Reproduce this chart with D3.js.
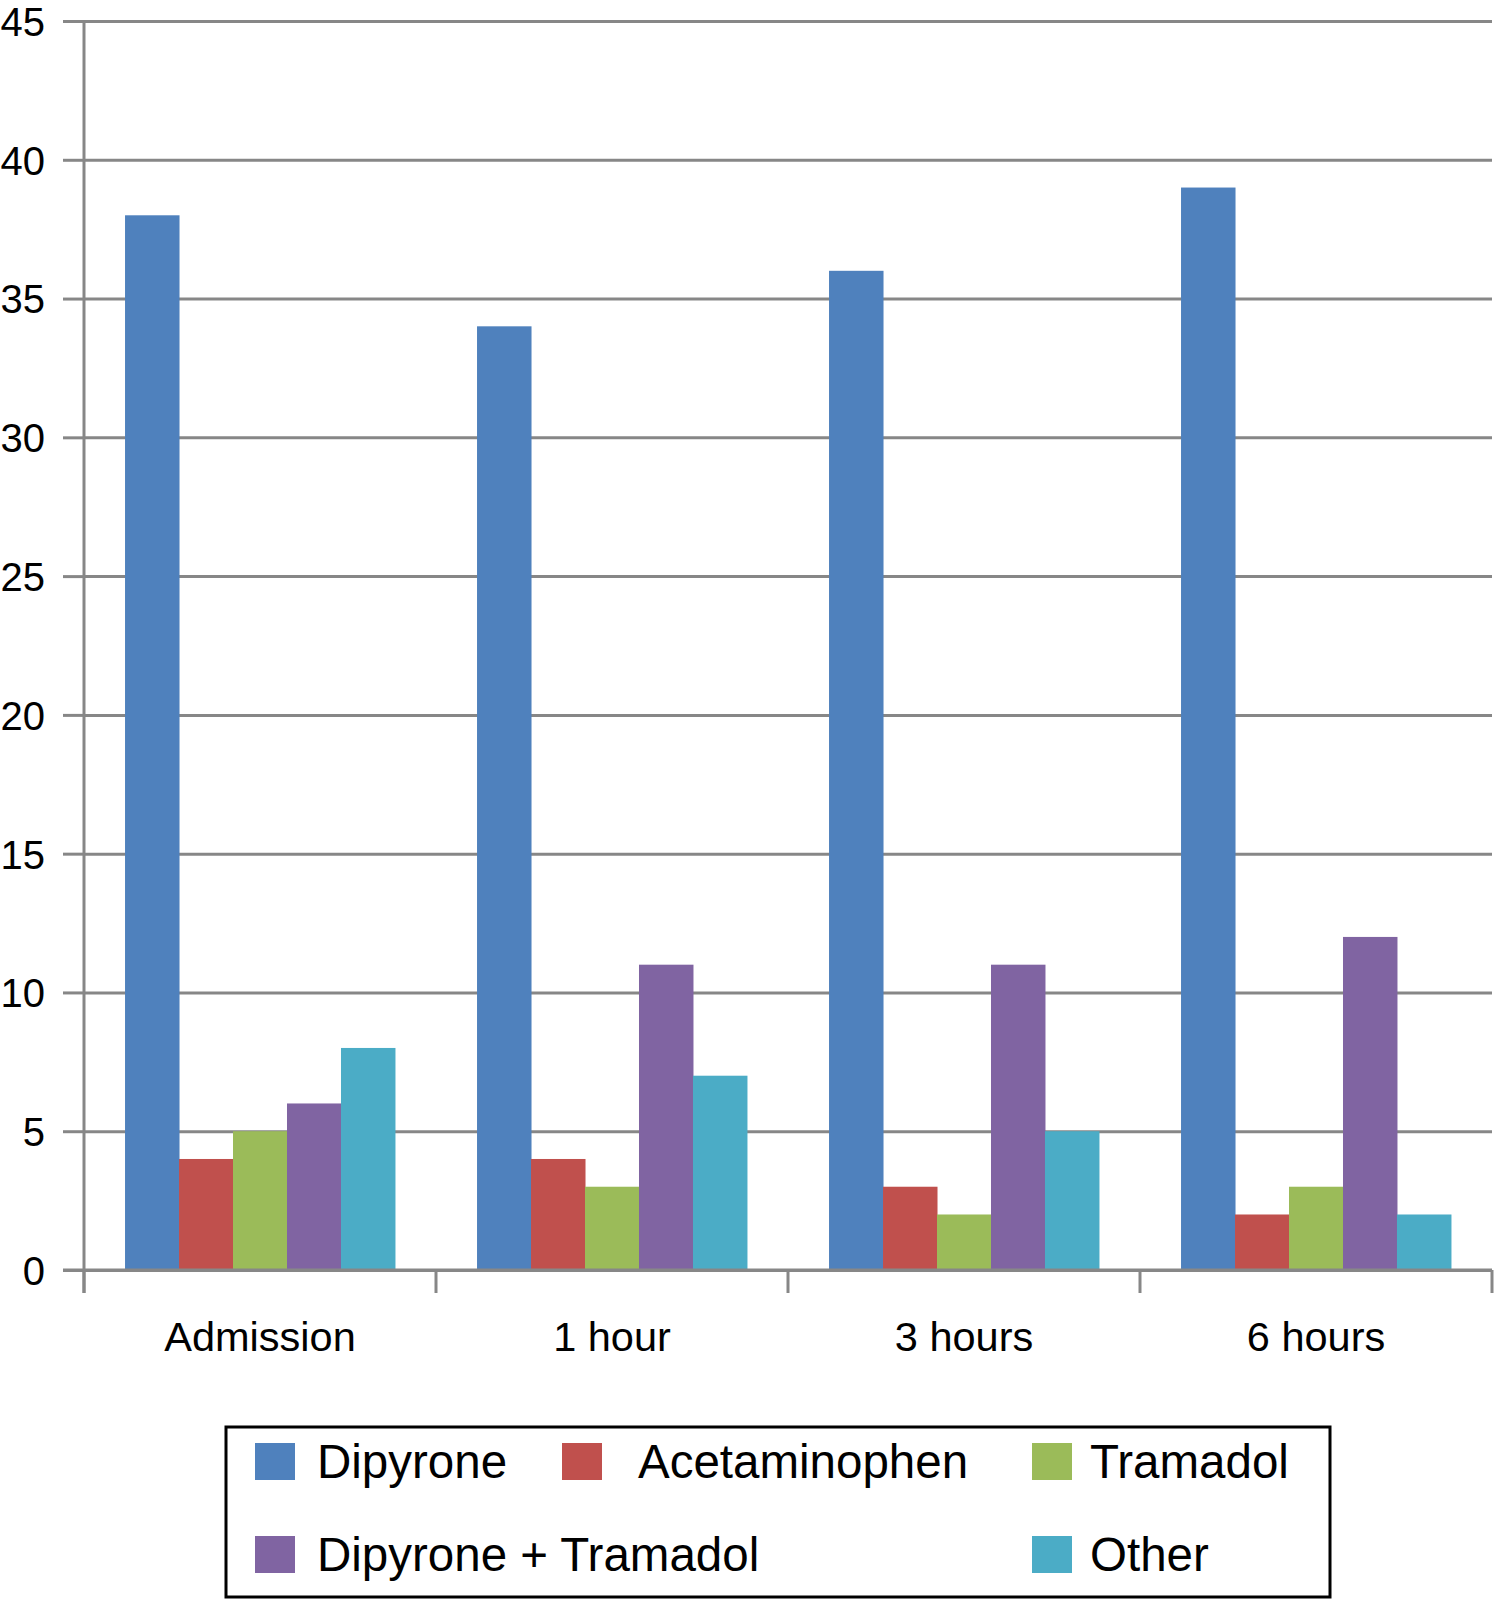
<!DOCTYPE html>
<html>
<head>
<meta charset="utf-8">
<script src="https://cdn.jsdelivr.net/npm/d3@7"></script>
<style>
body { margin: 0; background: #fff; }
text { font-family: "Liberation Sans", Arial, sans-serif; fill: #000; }
</style>
</head>
<body>
<svg id="chart"></svg>
<script>
"use strict";

var svg_width = 1494;
var svg_height = 1600;

// data
var categories = ["Admission", "1 hour", "3 hours", "6 hours"];
var seriesNames = ["Dipyrone", "Acetaminophen", "Tramadol", "Dipyrone + Tramadol", "Other"];
var seriesColors = ["#4f81bd", "#c0504d", "#9bbb59", "#8064a2", "#4bacc6"];
var dipyrone = [38, 34, 36, 39];
var acetaminophen = [4, 4, 3, 2];
var tramadol = [5, 3, 2, 3];
var dipyroneTramadol = [6, 11, 11, 12];
var other = [8, 7, 5, 2];
var yTicks = [0, 5, 10, 15, 20, 25, 30, 35, 40, 45];

var seriesValues = [dipyrone, acetaminophen, tramadol, dipyroneTramadol, other];

var plotLeft = 84, plotRight = 1492;
var plotTop = 21, plotBottom = 1270;
var gridColor = "#878787";

var svg = d3.select("#chart")
    .attr("width", svg_width)
    .attr("height", svg_height);

var x0 = d3.scaleBand()
    .domain(categories)
    .range([plotLeft, plotRight])
    .padding(0);
var x1 = d3.scaleBand()
    .domain(seriesNames)
    .range([0, x0.bandwidth()])
    .paddingInner(0)
    .paddingOuter(0.76);
var yScale = d3.scaleLinear()
    .domain([0, 45])
    .range([plotBottom, plotTop]);

// horizontal gridlines (they stick out left of the axis like ticks)
var yAxis = svg.append("g")
    .attr("class", "axis axis--y")
    .attr("transform", "translate(" + plotLeft + ",0)")
    .call(d3.axisLeft(yScale)
        .tickValues(yTicks)
        .tickSize(21)
        .tickPadding(40)
        .tickFormat(d3.format("d")));
yAxis.select(".domain").remove();
yAxis.selectAll(".tick line").clone()
    .attr("x2", plotRight - plotLeft);
yAxis.selectAll(".tick line")
    .attr("stroke", gridColor)
    .attr("stroke-width", 3);
yAxis.selectAll(".tick text")
    .attr("x", -39)
    .attr("dy", "0.36em")
    .style("font-size", "40px")
    .style("font-family", "'Liberation Sans', Arial, sans-serif")
    .attr("fill", "#000");

// vertical axis line
svg.append("line")
    .attr("x1", plotLeft).attr("x2", plotLeft)
    .attr("y1", plotTop).attr("y2", plotBottom + 23)
    .attr("stroke", gridColor)
    .attr("stroke-width", 3);

// bars
var groups = svg.append("g").selectAll(".group")
    .data(categories)
    .enter().append("g")
    .attr("class", "group")
    .attr("transform", function(d) { return "translate(" + x0(d) + ",0)"; });

groups.selectAll("rect")
    .data(function(d, i) {
        return seriesNames.map(function(s, j) {
            return {name: s, value: seriesValues[j][i], color: seriesColors[j]};
        });
    })
    .enter().append("rect")
    .attr("x", function(d) { return x1(d.name); })
    .attr("width", x1.bandwidth() + 0.5)
    .attr("y", function(d) { return yScale(d.value); })
    .attr("height", function(d) { return yScale(0) - yScale(d.value); })
    .attr("fill", function(d) { return d.color; });

// x axis (drawn over bar bottoms)
var xAxis = svg.append("g")
    .attr("class", "axis axis--x")
    .attr("transform", "translate(0," + plotBottom + ")");
xAxis.append("line")
    .attr("x1", plotLeft - 21).attr("x2", plotRight)
    .attr("stroke", gridColor)
    .attr("stroke-width", 3);
var tickPositions = categories.map(function(c) { return x0(c); }).concat([plotRight]);
xAxis.selectAll(".xtick")
    .data(tickPositions)
    .enter().append("line")
    .attr("class", "xtick")
    .attr("x1", function(d) { return d; })
    .attr("x2", function(d) { return d; })
    .attr("y1", 0).attr("y2", 23)
    .attr("stroke", gridColor)
    .attr("stroke-width", 3);
xAxis.selectAll(".xlabel")
    .data(categories)
    .enter().append("text")
    .attr("class", "xlabel")
    .attr("text-anchor", "middle")
    .attr("x", function(d) { return x0(d) + x0.bandwidth() / 2; })
    .attr("y", 81)
    .style("font-size", "41.5px")
    .text(function(d) { return d; });

// legend
var legend = svg.append("g").attr("class", "legend");
legend.append("rect")
    .attr("x", 226).attr("y", 1427)
    .attr("width", 1104).attr("height", 170)
    .attr("fill", "none")
    .attr("stroke", "#000")
    .attr("stroke-width", 3);

var legendPos = [
    {sx: 255, tx: 317, y: 1443},
    {sx: 562, tx: 638, y: 1443},
    {sx: 1032, tx: 1090, y: 1443},
    {sx: 255, tx: 317, y: 1536},
    {sx: 1032, tx: 1090, y: 1536}
];
var items = legend.selectAll(".item")
    .data(seriesNames)
    .enter().append("g")
    .attr("class", "item");
items.append("rect")
    .attr("x", function(d, i) { return legendPos[i].sx; })
    .attr("y", function(d, i) { return legendPos[i].y; })
    .attr("width", 40).attr("height", 37)
    .attr("fill", function(d, i) { return seriesColors[i]; });
items.append("text")
    .attr("x", function(d, i) { return legendPos[i].tx; })
    .attr("y", function(d, i) { return legendPos[i].y + 35; })
    .style("font-size", "47.5px")
    .text(function(d) { return d; });
</script>
</body>
</html>
